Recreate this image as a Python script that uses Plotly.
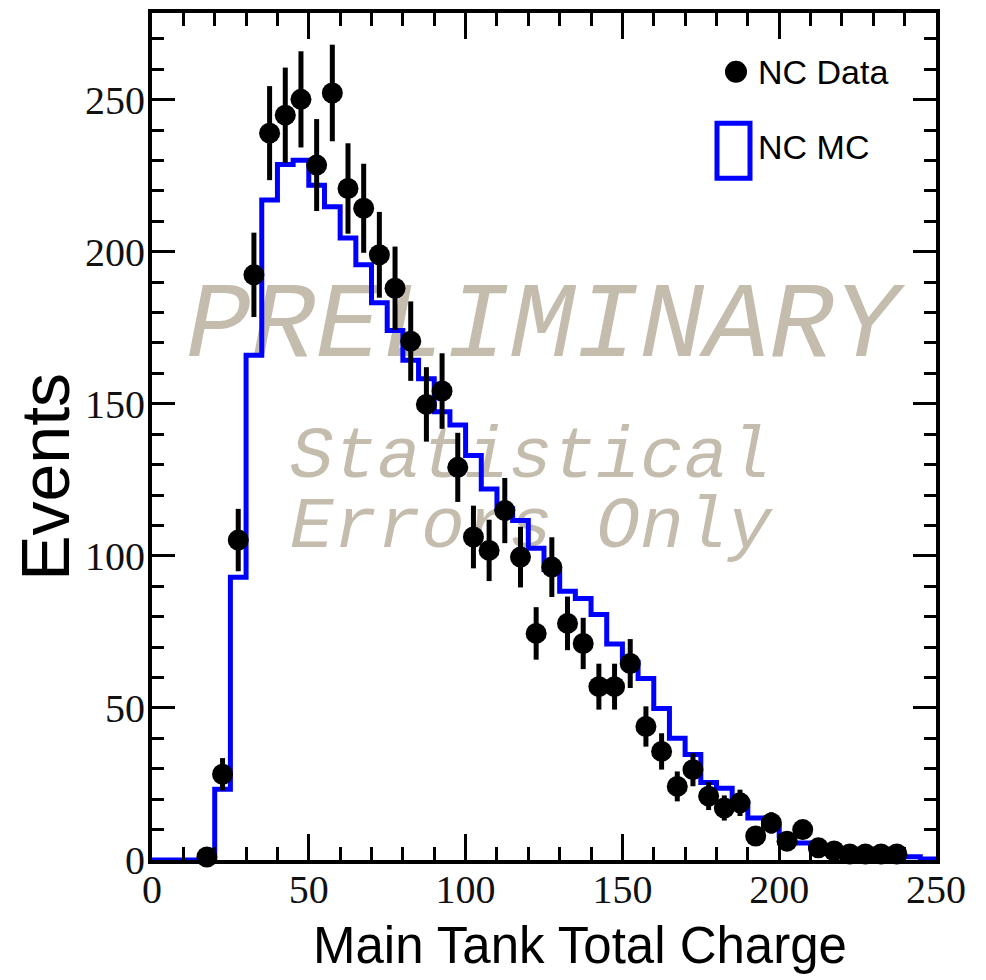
import numpy as np
import plotly.graph_objects as go

# ---- data ----
bin_edges = list(range(0, 255, 5))  # 0..250, width 5
mc_values = [0, 0, 0, 0, 23.3, 93, 166, 217, 228.7, 230.1,
             221.9, 214.8, 204.5, 195.7, 183.2, 174.1, 164.3, 158.2, 147.4, 143,
             133, 122, 115.5, 111.6, 102.5, 95.5, 88.4, 86, 80.7, 71,
             65, 59.7, 49.8, 40, 34.7, 25.5, 23.6, 19, 13.8, 11,
             8, 5.6, 4, 3, 2.5, 2, 1.5, 1.5, 1.1, 0.3]

data_x = [17.5, 22.5, 27.5, 32.5, 37.5, 42.5, 47.5, 52.5, 57.5, 62.5,
          67.5, 72.5, 77.5, 82.5, 87.5, 92.5, 97.5, 102.5, 107.5, 112.5,
          117.5, 122.5, 127.5, 132.5, 137.5, 142.5, 147.5, 152.5, 157.5, 162.5,
          167.5, 172.5, 177.5, 182.5, 187.5, 192.5, 197.5, 202.5, 207.5, 212.5,
          217.5, 222.5, 227.5, 232.5, 237.5]
data_y = [1, 28.2, 105.2, 192.4, 239, 244.9, 250.1, 228.5, 252.2, 220.8,
          214.3, 199, 188, 170.6, 149.8, 154.2, 129.1, 106.2, 101.8, 114.9,
          99.6, 74.5, 96.3, 77.8, 71.2, 57, 57, 64.6, 43.9, 35.7,
          24.2, 29.7, 21, 17.1, 18.8, 7.9, 12.2, 6.2, 10, 4,
          3, 2, 2, 2, 2]
data_err = [float(np.sqrt(v)) for v in data_y]

x_tickvals = [0, 50, 100, 150, 200, 250]
y_tickvals = [0, 50, 100, 150, 200, 250]

# ---- figure ----
W, H = 986, 980
L, R, T, B = 152, 50, 9, 120
X_RANGE = [0, 250]
Y_RANGE = [0, 278.5]

fig = go.Figure()

wm_color = "#c4bcad"
# watermark (drawn first so it sits beneath data)
fig.add_trace(go.Scatter(
    x=[124.5], y=[174.5], mode="text", text=["PRELIMINARY"],
    textposition="middle center",
    textfont=dict(family="Liberation Mono", size=108, color=wm_color, style="italic"),
    hoverinfo="skip", showlegend=False, cliponaxis=False))
fig.add_trace(go.Scatter(
    x=[43.9, 43.9], y=[132.0, 109.0], mode="text",
    text=["Statistical", "Errors Only"],
    textposition="middle right",
    textfont=dict(family="Liberation Mono", size=73, color=wm_color, style="italic"),
    hoverinfo="skip", showlegend=False, cliponaxis=False))

# MC histogram (step)
step_x = bin_edges
step_y = mc_values + [mc_values[-1]]
fig.add_trace(go.Scatter(
    x=step_x, y=step_y, mode="lines", line=dict(color="#0000ff", width=5, shape="hv"),
    name="NC MC", showlegend=False, cliponaxis=False))

# Data points
fig.add_trace(go.Scatter(
    x=data_x, y=data_y, mode="markers",
    marker=dict(color="black", size=21, line=dict(width=0)),
    error_y=dict(type="data", array=data_err, visible=True, color="black",
                 thickness=5, width=0),
    name="NC Data", showlegend=False, cliponaxis=False))

plot_w = W - L - R
plot_h = H - T - B

def px_to_paper_x(px):
    return (px - L) / plot_w

def py_to_paper_y(py):
    return (H - B - py) / plot_h

shapes = [
    # legend circle (NC Data)
    dict(type="circle", xref="paper", yref="paper", xsizemode="pixel", ysizemode="pixel",
         xanchor=px_to_paper_x(736), yanchor=py_to_paper_y(68),
         x0=-11, x1=11, y0=-11, y1=11, fillcolor="black", line=dict(width=0)),
    # legend box (NC MC)
    dict(type="rect", xref="paper", yref="paper", xsizemode="pixel", ysizemode="pixel",
         xanchor=px_to_paper_x(733.5), yanchor=py_to_paper_y(147.5),
         x0=-16.5, x1=16.5, y0=-27.5, y1=27.5, fillcolor="rgba(0,0,0,0)",
         line=dict(color="#0000ff", width=5)),
]

annotations = [
    dict(text="NC Data", xref="paper", yref="paper",
         x=px_to_paper_x(756), y=py_to_paper_y(68), xanchor="left", yanchor="middle",
         showarrow=False, font=dict(family="Liberation Sans", size=34, color="black")),
    dict(text="NC MC", xref="paper", yref="paper",
         x=px_to_paper_x(756), y=py_to_paper_y(144), xanchor="left", yanchor="middle",
         showarrow=False, font=dict(family="Liberation Sans", size=34, color="black")),
    dict(text="Main Tank Total Charge", xref="paper", yref="paper",
         x=px_to_paper_x(580), y=py_to_paper_y(946), xanchor="center", yanchor="middle",
         showarrow=False, font=dict(family="Liberation Sans", size=51, color="black")),
    dict(text="Events", xref="paper", yref="paper", textangle=-90,
         x=px_to_paper_x(45), y=py_to_paper_y(475), xanchor="center", yanchor="middle",
         showarrow=False, font=dict(family="Liberation Sans", size=68, color="black")),
]

axis_common = dict(
    showline=True, linewidth=4, linecolor="black", mirror="ticks",
    ticks="inside", tickwidth=3, tickcolor="black",
    showgrid=False, zeroline=False,
    tickfont=dict(family="Liberation Serif", size=40, color="#111111"),
)

fig.update_layout(
    width=W, height=H,
    margin=dict(l=L, r=R, t=T, b=B, pad=0),
    paper_bgcolor="white", plot_bgcolor="white",
    showlegend=False,
    xaxis=dict(range=X_RANGE, tickmode="array", tickvals=x_tickvals,
               ticktext=[str(v) for v in x_tickvals], ticklen=26,
               ticklabelstandoff=-9,
               minor=dict(dtick=10, tick0=0, ticklen=13, tickwidth=3, ticks="inside",
                          tickcolor="black", showgrid=False),
               **axis_common),
    yaxis=dict(range=Y_RANGE, tickmode="array", tickvals=y_tickvals,
               ticktext=[str(v) for v in y_tickvals], ticklen=23,
               ticklabelstandoff=-5,
               minor=dict(dtick=10, tick0=0, ticklen=12, tickwidth=3, ticks="inside",
                          tickcolor="black", showgrid=False),
               **axis_common),
    shapes=shapes, annotations=annotations,
)

fig.write_html("out.html")
